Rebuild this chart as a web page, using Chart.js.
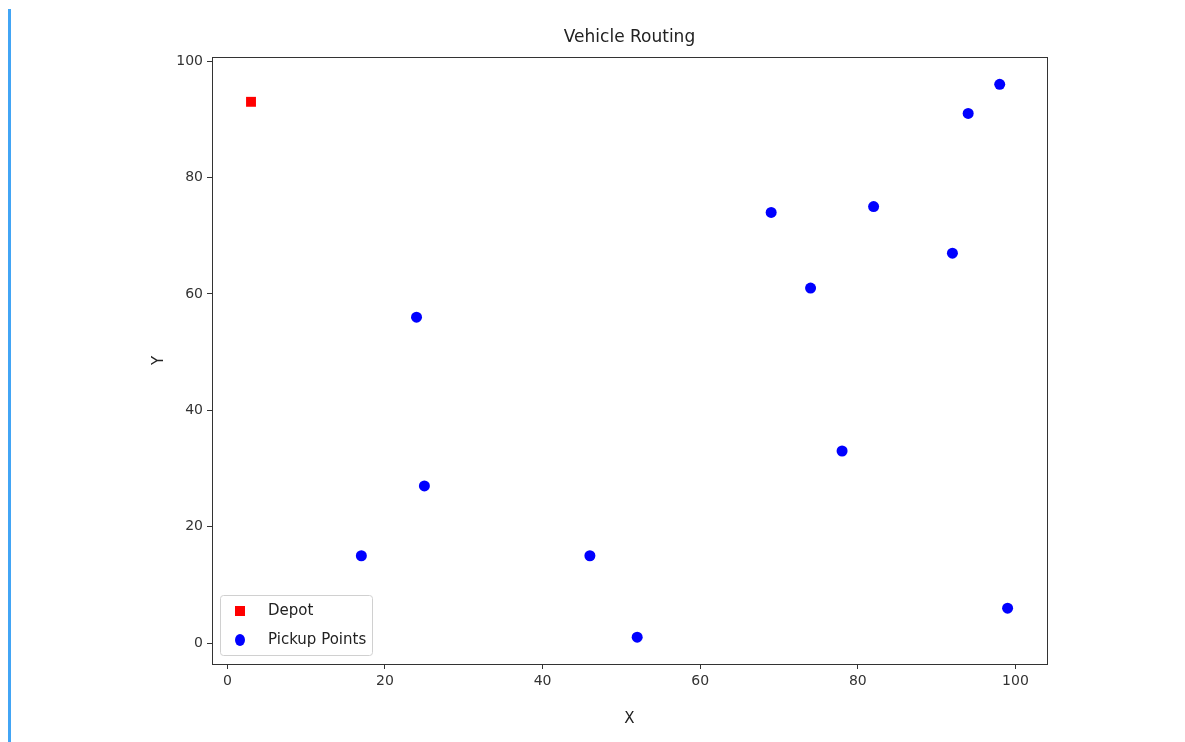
<!DOCTYPE html>
<html lang="en">
<head>
  <meta charset="UTF-8">
  <title>Vehicle Routing</title>
  <script src="https://cdn.jsdelivr.net/npm/chart.js"></script>
  <style>
    body { margin: 0; background: white; }
    #bar { position: absolute; left: 8px; top: 9px; width: 3px; height: 733px; background: #42a5f5; }
    #wrap { position: absolute; left: 0; top: 0; width: 1185px; height: 742px; }
  </style>
</head>
<body>
  <div id="bar"></div>
  <div id="wrap"><canvas id="chart"></canvas></div>

  <script>
    // data
    const chartTitle = 'Vehicle Routing';
    const depotX = [3];
    const depotY = [93];
    const pickupX = [17, 24, 25, 46, 52, 69, 74, 78, 82, 92, 94, 98, 99];
    const pickupY = [15, 56, 27, 15, 1, 74, 61, 33, 75, 67, 91, 96, 6];
    const xTicks = [0, 20, 40, 60, 80, 100];
    const yTicks = [0, 20, 40, 60, 80, 100];

    const toPoints = (xs, ys) => xs.map((x, i) => ({ x: x, y: ys[i] }));

    // frame around plot, title centred on the plot, matplotlib style legend lower left
    const framePlugin = {
      id: 'frame',
      afterDraw(chart) {
        const ctx = chart.ctx;
        const a = chart.chartArea;
        ctx.save();
        ctx.strokeStyle = '#333';
        ctx.lineWidth = 1;
        ctx.strokeRect(a.left + 0.5, a.top + 0.5, a.width, a.height);

        ctx.fillStyle = '#222';
        ctx.font = '17px "DejaVu Sans", sans-serif';
        ctx.textAlign = 'center';
        ctx.textBaseline = 'middle';
        ctx.fillText(chartTitle, (a.left + a.right) / 2, 38);

        const bx = a.left + 8, by = a.bottom - 69, bw = 152, bh = 60;
        ctx.fillStyle = 'rgba(255,255,255,0.8)';
        ctx.strokeStyle = '#d0d0d0';
        ctx.beginPath();
        ctx.roundRect(bx + 0.5, by + 0.5, bw, bh, 3);
        ctx.fill();
        ctx.stroke();

        ctx.font = '15px "DejaVu Sans", sans-serif';
        ctx.textAlign = 'left';
        chart.data.datasets.forEach((ds, i) => {
          const cy = by + 16 + i * 29;
          ctx.fillStyle = ds.backgroundColor;
          if (ds.pointStyle === 'rect') {
            ctx.fillRect(bx + 15, cy - 5, 10, 10);
          } else {
            ctx.beginPath();
            ctx.ellipse(bx + 20, cy, 5, 6, 0, 0, Math.PI * 2);
            ctx.fill();
          }
          ctx.fillStyle = '#222';
          ctx.fillText(ds.label, bx + 48, cy);
        });
        ctx.restore();
      }
    };

    const tickFont = { family: '"DejaVu Sans", sans-serif', size: 14 };

    new Chart(document.getElementById('chart'), {
      type: 'scatter',
      data: {
        datasets: [{
          label: 'Depot',
          data: toPoints(depotX, depotY),
          pointStyle: 'rect',
          backgroundColor: 'red',
          borderColor: 'red',
          pointRadius: 7,
          borderWidth: 0
        }, {
          label: 'Pickup Points',
          data: toPoints(pickupX, pickupY),
          pointStyle: 'circle',
          backgroundColor: 'blue',
          borderColor: 'blue',
          pointRadius: 5.5,
          borderWidth: 0
        }]
      },
      options: {
        responsive: true,
        maintainAspectRatio: false,
        animation: false,
        layout: { padding: { left: 146, right: 138, top: 57, bottom: 10 } },
        plugins: {
          legend: { display: false },
          tooltip: { enabled: false },
          title: { display: false }
        },
        scales: {
          x: {
            type: 'linear',
            min: -1.95,
            max: 104,
            afterBuildTicks: s => { s.ticks = xTicks.map(v => ({ value: v })); },
            afterFit: s => { s.height = 68; },
            ticks: { color: '#333', font: tickFont, padding: 4, maxRotation: 0 },
            grid: { drawOnChartArea: false, drawTicks: true, tickLength: 5, color: '#333' },
            border: { color: '#333' },
            title: { display: true, text: 'X', color: '#222', font: { family: '"DejaVu Sans", sans-serif', size: 15 }, padding: { top: 10 } }
          },
          y: {
            type: 'linear',
            min: -3.6,
            max: 100.7,
            afterBuildTicks: s => { s.ticks = yTicks.map(v => ({ value: v })); },
            afterFit: s => { s.width = 66; },
            ticks: { color: '#333', font: tickFont, padding: 4 },
            grid: { drawOnChartArea: false, drawTicks: true, tickLength: 5, color: '#333' },
            border: { color: '#333' },
            title: { display: true, text: 'Y', color: '#222', font: { family: '"DejaVu Sans", sans-serif', size: 15 }, padding: { bottom: 6 } }
          }
        }
      },
      plugins: [framePlugin]
    });
  </script>
</body>
</html>
